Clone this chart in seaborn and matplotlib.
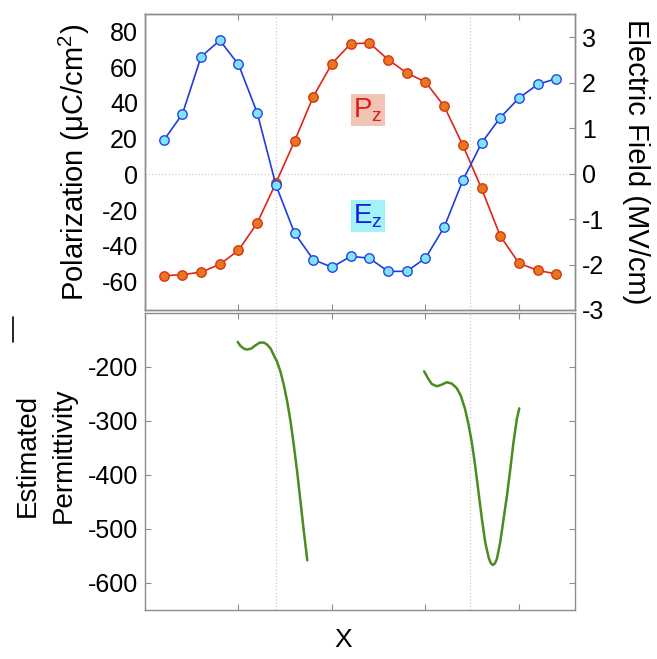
import numpy as np
import pandas as pd
import matplotlib
matplotlib.use("Agg")
import matplotlib.pyplot as plt
from matplotlib.lines import Line2D
import seaborn as sns

# ---------------- data ----------------
site = [0, 1, 2, 3, 4, 5, 6, 7, 8, 9, 10, 11, 12, 13, 14, 15, 16, 17, 18, 19, 20, 21]
pz = [-56.8, -56.2, -54.8, -50.4, -42.6, -27.3, -4.9, 18.6, 43.5, 62.0, 73.1, 73.6,
      64.3, 56.8, 51.7, 38.2, 16.3, -7.9, -34.5, -49.8, -53.8, -55.8]
ez = [0.73, 1.31, 2.57, 2.93, 2.40, 1.34, -0.25, -1.31, -1.89, -2.06, -1.82, -1.86,
      -2.15, -2.15, -1.86, -1.18, -0.15, 0.67, 1.23, 1.66, 1.96, 2.09]

perm1_x = [3.96, 4.11, 4.29, 4.46, 4.68, 4.91, 5.14, 5.36, 5.53, 5.72, 5.89, 6.07,
           6.25, 6.43, 6.61, 6.79, 6.96, 7.14, 7.32, 7.50, 7.68]
perm1_y = [-153.7, -161.1, -165.9, -167.8, -165.9, -159.8, -154.8, -154.8, -158.5,
           -165.9, -178.3, -190.7, -209.3, -233.9, -264.8, -301.9, -345.0, -394.4,
           -450.0, -505.6, -558.0]
perm2_x = [13.93, 14.16, 14.34, 14.61, 14.88, 15.14, 15.41, 15.68, 15.89, 16.12, 16.30,
           16.48, 16.66, 16.84, 17.02, 17.20, 17.38, 17.50, 17.61, 17.72, 17.82, 18.00,
           18.18, 18.36, 18.54, 18.71, 18.89, 19.02]
perm2_y = [-208.0, -222.2, -231.5, -235.7, -232.6, -228.3, -230.7, -239.4, -253.0,
           -277.8, -305.6, -339.4, -382.6, -432.0, -481.5, -524.6, -553.0, -563.5,
           -566.7, -563.5, -555.6, -524.6, -481.5, -438.2, -388.9, -339.4, -296.3,
           -276.5]

wall_x = [6.0, 16.4]
pol_ticks = [-60, -40, -20, 0, 20, 40, 60, 80]
field_ticks = [-3, -2, -1, 0, 1, 2, 3]
perm_ticks = [-600, -500, -400, -300, -200]
x_ticks = [-1, 4, 9, 14, 19]

# ---------------- style ----------------
sns.set_style("ticks")
plt.rcParams['font.family'] = ['Liberation Sans', 'DejaVu Sans']
plt.rcParams['mathtext.fontset'] = 'custom'
plt.rcParams['mathtext.rm'] = 'Liberation Sans'
plt.rcParams['mathtext.it'] = 'Liberation Sans'
plt.rcParams['axes.unicode_minus'] = False
plt.rcParams['text.color'] = 'black'
plt.rcParams['axes.labelcolor'] = 'black'
plt.rcParams['xtick.color'] = 'black'
plt.rcParams['ytick.color'] = 'black'

spine_c = '#8c8c8c'
fig = plt.figure(figsize=(6.57, 6.59), dpi=100)
ax1 = fig.add_axes([145/657, 1-310/659, 430/657, 296/659])
ax3 = fig.add_axes([145/657, 1-610/659, 430/657, 297/659])
ax2 = ax1.twinx()

df_top = pd.DataFrame({'site': site, 'pz': pz, 'ez': ez})

sns.lineplot(data=df_top, x='site', y='pz', ax=ax1, color='#e0241c', lw=1.2,
             marker='o', markersize=6.8, markerfacecolor='#e8751f',
             markeredgecolor='#d43a12', markeredgewidth=1.0, zorder=3)
sns.lineplot(data=df_top, x='site', y='ez', ax=ax2, color='#1f3ce0', lw=1.2,
             marker='o', markersize=6.8, markerfacecolor='#7fe4ff',
             markeredgecolor='#2545e0', markeredgewidth=1.0, zorder=3)

df_p1 = pd.DataFrame({'x': perm1_x, 'y': perm1_y})
df_p2 = pd.DataFrame({'x': perm2_x, 'y': perm2_y})
for d in (df_p1, df_p2):
    sns.lineplot(data=d, x='x', y='y', ax=ax3, color='#4a8c1e', lw=1.8,
                 sort=False, estimator=None, solid_joinstyle='round',
                 solid_capstyle='round')

# reference lines
ax1.axhline(0, color='#cccccc', lw=0.9, ls=':', zorder=0)
for wx in wall_x:
    ax1.axvline(wx, color='#cccccc', lw=0.9, ls=':', zorder=0)
    ax3.axvline(wx, color='#cccccc', lw=0.9, ls=':', zorder=0)

# limits & ticks
for a in (ax1, ax3):
    a.set_xlim(-1, 22)
    a.set_xticks(x_ticks)
    a.set_xticklabels([])
ax1.set_ylim(-76, 89.8)
ax2.set_ylim(-3.0, 3.51)
ax3.set_ylim(-650, -100)
ax1.set_yticks(pol_ticks)
ax2.set_yticks(field_ticks)
ax3.set_yticks(perm_ticks)

fs = 18
for a in (ax1, ax2, ax3):
    a.tick_params(direction='in', length=4, width=0.8, color=spine_c,
                  labelcolor='black', labelsize=fs, pad=5, top=True, bottom=True)
    for s in a.spines.values():
        s.set_color(spine_c)
        s.set_linewidth(1.0)
ax1.tick_params(axis='y', left=False, right=False)
ax2.tick_params(axis='y', left=False, right=True)
ax3.tick_params(axis='y', left=True, right=True)

lfs = 21
ax1.set_xlabel('')
ax2.set_xlabel('')
ax1.set_ylabel('Polarization (\u03bcC/cm$^\\mathregular{2}$)', fontsize=lfs, labelpad=7)
ax2.set_ylabel('Electric Field (MV/cm)', fontsize=lfs, rotation=270, labelpad=33)
ax3.set_ylabel('')
ax3.set_xlabel('X', fontsize=fs + 1)
ax3.xaxis.set_label_coords((343-145)/430, -0.06)

fig.text(28/657, 1-455/659, 'Estimated', fontsize=20, rotation=90,
         ha='center', va='center')
fig.text(64/657, 1-455/659, 'Permittivity', fontsize=20, rotation=90,
         ha='center', va='center')

# series labels
ax1.text(10.93, 36, 'P$_\\mathregular{z}$', color='#e01a1a', fontsize=20,
         ha='center', va='center',
         bbox=dict(boxstyle='square,pad=0.08', fc='#f1c5b3', ec='none'))
ax1.text(10.93, -23.5, 'E$_\\mathregular{z}$', color='#1a1ae6', fontsize=20,
         ha='center', va='center',
         bbox=dict(boxstyle='square,pad=0.08', fc='#a3f2f8', ec='none'))

fig.add_artist(Line2D([12.7/657, 12.7/657], [1-317/659, 1-342/659],
                      color='black', lw=1.2))

fig.savefig('out.png', dpi=100)
